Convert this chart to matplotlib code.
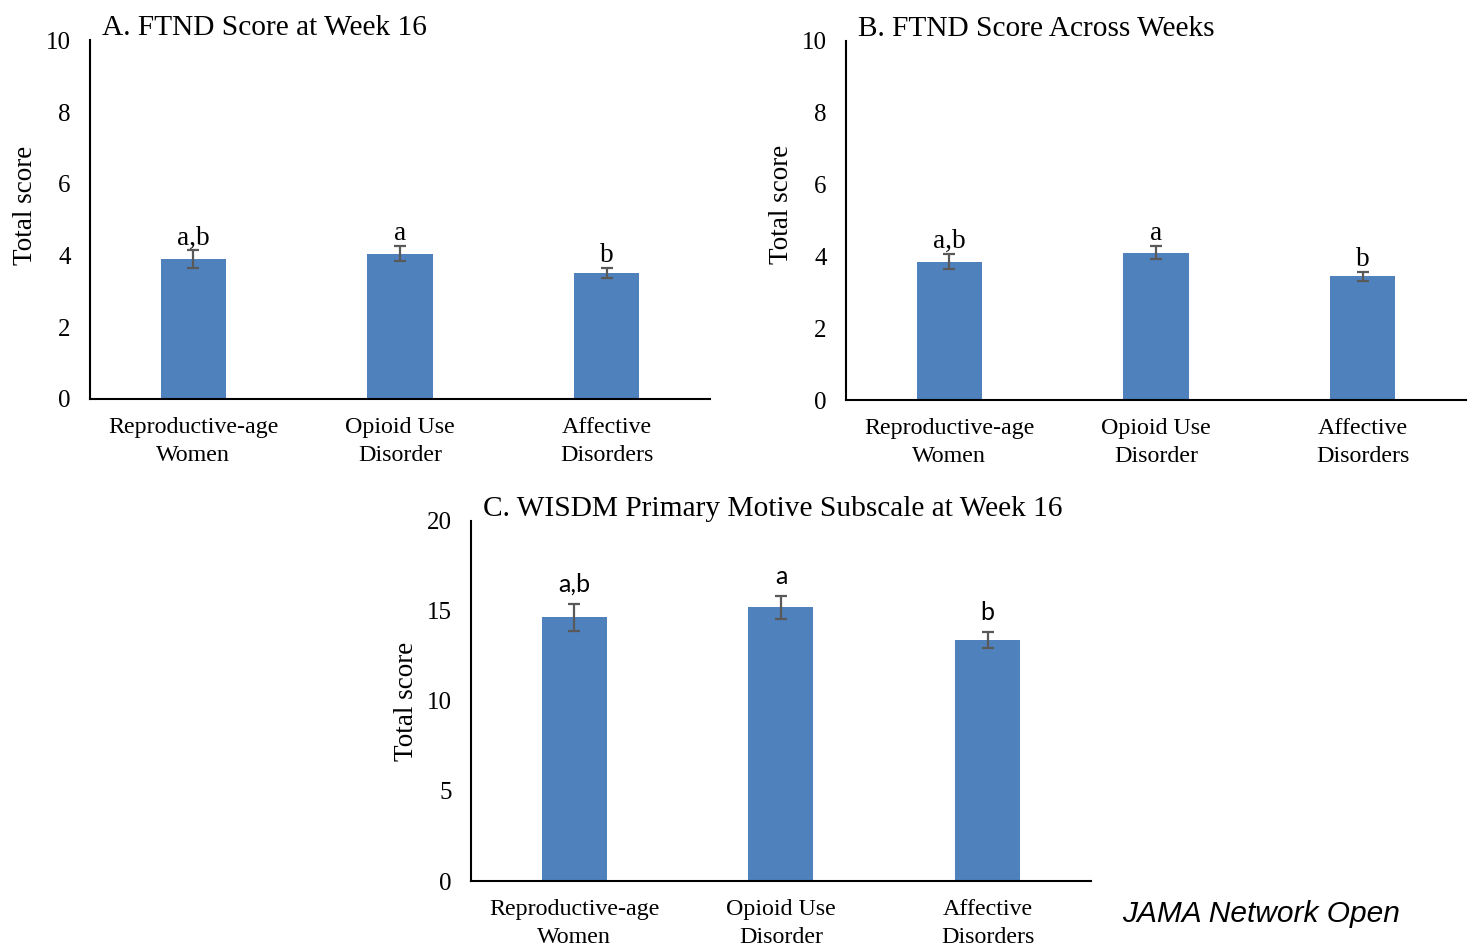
import numpy as np
import matplotlib.pyplot as plt

# groups and summary values (mean, SE) for the three panels
groups = ["Reproductive-age\nWomen", "Opioid Use\nDisorder", "Affective\nDisorders"]
letters = ["a,b", "a", "b"]

ftnd_wk16 = [3.90, 4.05, 3.50]
ftnd_wk16_err = [0.24, 0.21, 0.14]

ftnd_all = [3.86, 4.11, 3.45]
ftnd_all_err = [0.21, 0.18, 0.12]

wisdm_wk16 = [14.65, 15.20, 13.37]
wisdm_wk16_err = [0.76, 0.63, 0.44]

bar_color = "#4F81BD"
err_color = "#595959"
serif = ["Liberation Serif", "DejaVu Serif"]

plt.rcParams["font.family"] = serif

fig = plt.figure(figsize=(14.76, 9.46), dpi=100)

ax_a = fig.add_axes([0.061, 0.5785, 0.42, 0.3787])
ax_b = fig.add_axes([0.5732, 0.5768, 0.42, 0.380])
ax_c = fig.add_axes([0.3191, 0.0687, 0.42, 0.3806])


def bar_panel(ax, vals, errs, title, ymax, step, letter_font, letter_size, letter_off, ylab_y):
    x = np.arange(len(groups))
    ax.bar(x, vals, width=0.315, color=bar_color, zorder=2)
    ax.errorbar(x, vals, yerr=errs, fmt="none", ecolor=err_color,
                elinewidth=1.6, capsize=4.5, capthick=1.6, zorder=3)
    for xi, v, e, lab in zip(x, vals, errs, letters):
        ax.text(xi, v + e + letter_off, lab, ha="center", va="bottom",
                fontsize=letter_size, family=letter_font)
    ax.set_xlim(-0.5, 2.5)
    ax.set_ylim(0, ymax)
    ax.set_yticks(np.arange(0, ymax + step / 2, step))
    ax.set_xticks(x)
    ax.set_xticklabels(groups, fontsize=17.3, linespacing=1.42)
    ax.tick_params(axis="y", labelsize=18, length=0, pad=14)
    ax.tick_params(axis="x", length=0, pad=13)
    for s in ["top", "right"]:
        ax.spines[s].set_visible(False)
    ax.spines["left"].set_linewidth(1.5)
    ax.spines["bottom"].set_linewidth(1.5)
    ax.set_ylabel("Total score", fontsize=19.5)
    ax.yaxis.set_label_coords(-0.084, ylab_y)
    ax.text(0.02, 1.014, title, transform=ax.transAxes, fontsize=21.2,
            ha="left", va="baseline")


bar_panel(ax_a, ftnd_wk16, ftnd_wk16_err, "A. FTND Score at Week 16", 10, 2,
          serif, 19.5, 0.0, 0.54)
bar_panel(ax_b, ftnd_all, ftnd_all_err, "B. FTND Score Across Weeks", 10, 2,
          serif, 19.5, 0.0, 0.545)
bar_panel(ax_c, wisdm_wk16, wisdm_wk16_err, "C. WISDM Primary Motive Subscale at Week 16", 20, 5,
          ["Lato", "DejaVu Sans"], 18, 0.45, 0.5)

fig.text(0.76, 0.034, "JAMA Network Open", fontsize=21.5, style="italic",
         family=["Liberation Sans", "DejaVu Sans"], ha="left", va="center")

fig.savefig("out.png", dpi=100)
